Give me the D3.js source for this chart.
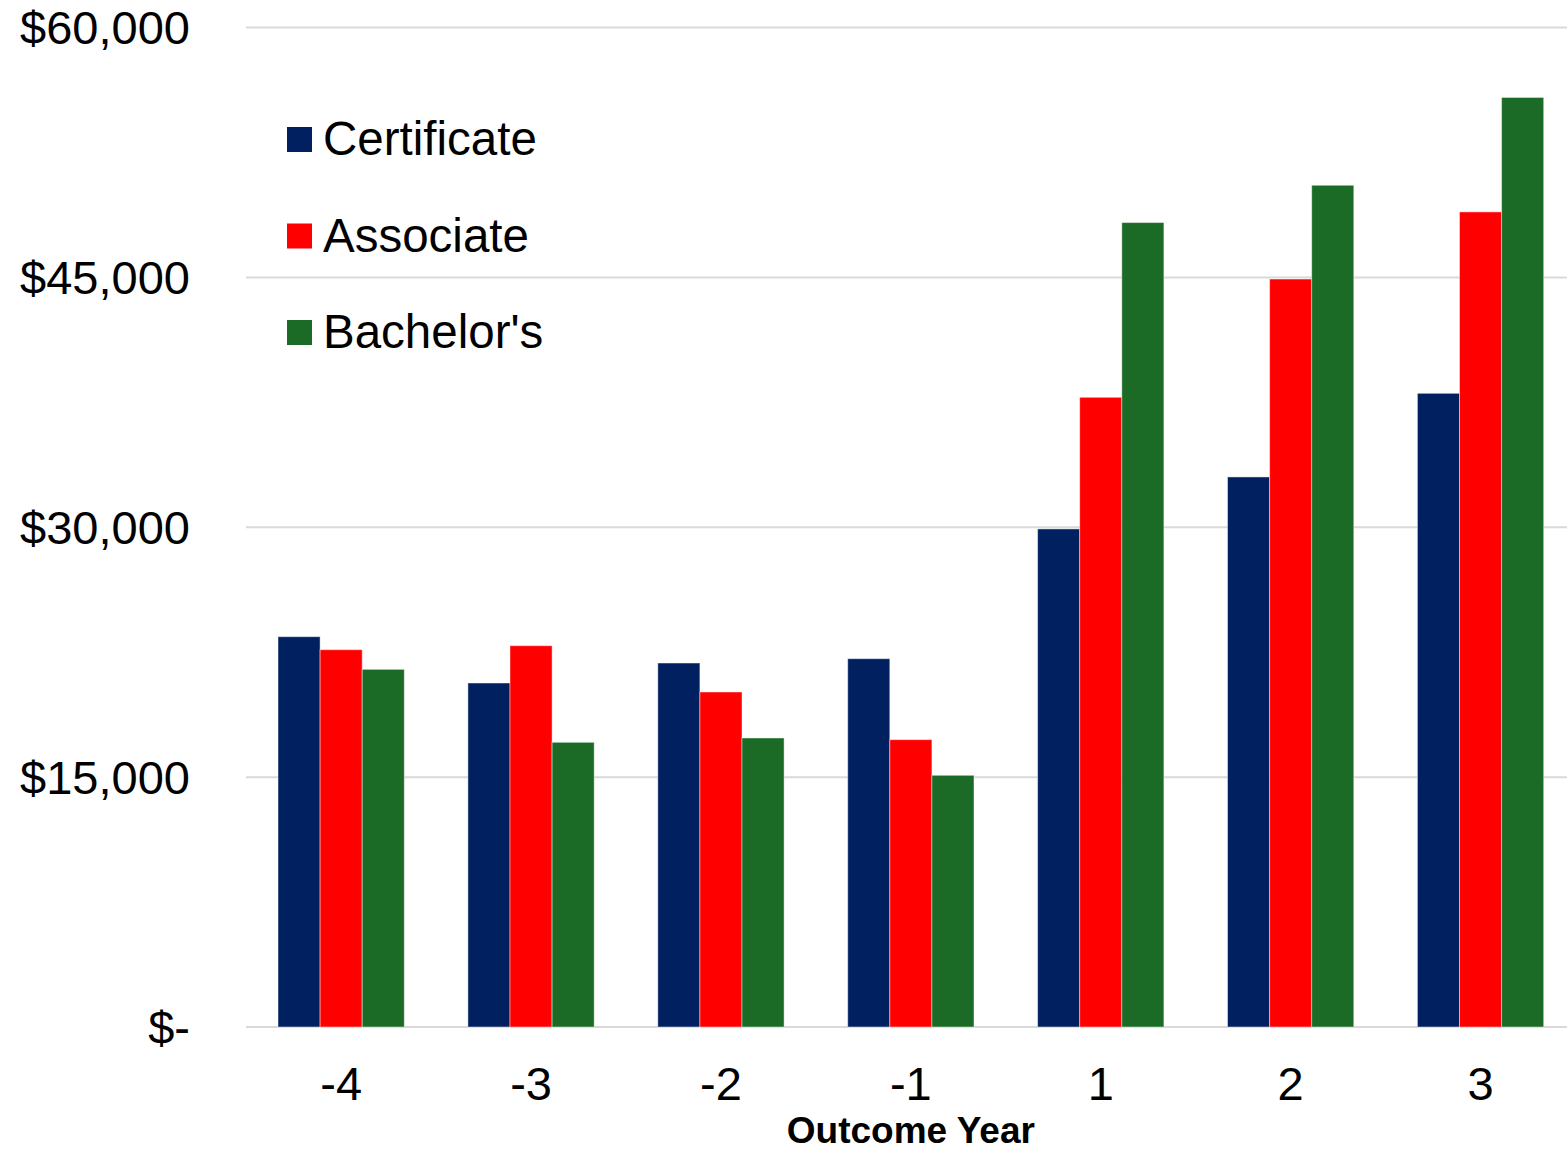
<!DOCTYPE html>
<html>
<head>
<meta charset="utf-8">
<script src="https://cdn.jsdelivr.net/npm/d3@7"></script>
<style>
  html, body { margin: 0; padding: 0; background: #fff; }
  svg { display: block; font-family: "Liberation Sans", Arial, sans-serif; }
</style>
</head>
<body>
<svg id="chart" width="1567" height="1151"></svg>
<script>
// Median earnings by outcome year, per credential type
const years = ["-4", "-3", "-2", "-1", "1", "2", "3"];
const seriesNames = ["Certificate", "Associate", "Bachelor's"];
const certificate = [23430, 20650, 21850, 22110, 29900, 33020, 38040];
const associate   = [22650, 22890, 20110, 17250, 37800, 44900, 48930];
const bachelors   = [21470, 17090, 17350, 15110, 48290, 50530, 55800];
const yTicks = [0, 15000, 30000, 45000, 60000];
const colors = ["#002060", "#ff0000", "#1b6a25"];

const seriesValues = [certificate, associate, bachelors];

const svg = d3.select("#chart");

const x0 = d3.scaleBand()
  .domain(years)
  .range([246.2, 1575.5])
  .paddingInner(0.335)
  .paddingOuter(0.1675);

const x1 = d3.scaleBand()
  .domain(seriesNames)
  .range([0, x0.bandwidth()]);

const y = d3.scaleLinear()
  .domain([0, 60000])
  .range([1027, 27.5]);

const fmt = d3.format(",");
const yLabel = v => v === 0 ? "$-" : "$" + fmt(v);

// Horizontal gridlines
svg.append("g")
  .selectAll("line")
  .data(yTicks)
  .join("line")
  .attr("x1", 246)
  .attr("x2", 1575.5)
  .attr("y1", d => y(d))
  .attr("y2", d => y(d))
  .attr("stroke", "#d9d9d9")
  .attr("stroke-width", 2);

// Y-axis labels
const yAxis = d3.axisLeft(y).tickValues(yTicks).tickFormat(yLabel).tickSize(0).tickPadding(0);
svg.append("g")
  .attr("transform", "translate(190,0)")
  .call(yAxis)
  .call(g => g.select(".domain").remove())
  .call(g => g.selectAll("text")
    .attr("font-size", 47)
    .attr("font-family", "'Liberation Sans', Arial, sans-serif")
    .attr("fill", "#000")
    .attr("dy", "0.35em"));

// Bars
const groups = svg.append("g")
  .selectAll("g")
  .data(years)
  .join("g")
  .attr("transform", d => `translate(${x0(d)},0)`);

groups.selectAll("rect")
  .data((d, i) => seriesNames.map((name, s) => ({ name, s, value: seriesValues[s][i] })))
  .join("rect")
  .attr("x", d => x1(d.name))
  .attr("width", x1.bandwidth())
  .attr("y", d => y(d.value))
  .attr("height", d => y(0) - y(d.value))
  .attr("fill", d => colors[d.s])
  .attr("stroke", "rgba(255,255,255,0.45)")
  .attr("stroke-width", 1);

// X-axis labels
const xAxis = d3.axisBottom(x0).tickSize(0).tickPadding(0);
svg.append("g")
  .attr("transform", "translate(0,1100)")
  .call(xAxis)
  .call(g => g.select(".domain").remove())
  .call(g => g.selectAll("text")
    .attr("font-size", 47)
    .attr("font-family", "'Liberation Sans', Arial, sans-serif")
    .attr("fill", "#000")
    .attr("dy", 0)
    .attr("y", 0));

// X-axis title
svg.append("text")
  .attr("x", (x0.range()[0] + x0.range()[1]) / 2)
  .attr("y", 1143)
  .attr("text-anchor", "middle")
  .attr("font-size", 37)
  .attr("font-weight", "bold")
  .attr("fill", "#000")
  .text("Outcome Year");

// Legend
const legend = svg.append("g")
  .selectAll("g")
  .data(seriesNames)
  .join("g")
  .attr("transform", (d, i) => `translate(287,${127 + i * 96.5})`);

legend.append("rect")
  .attr("width", 25)
  .attr("height", 25)
  .attr("fill", (d, i) => colors[i]);

legend.append("text")
  .attr("x", 36)
  .attr("y", 28)
  .attr("font-size", 47.5)
  .attr("fill", "#000")
  .text(d => d);
</script>
</body>
</html>
